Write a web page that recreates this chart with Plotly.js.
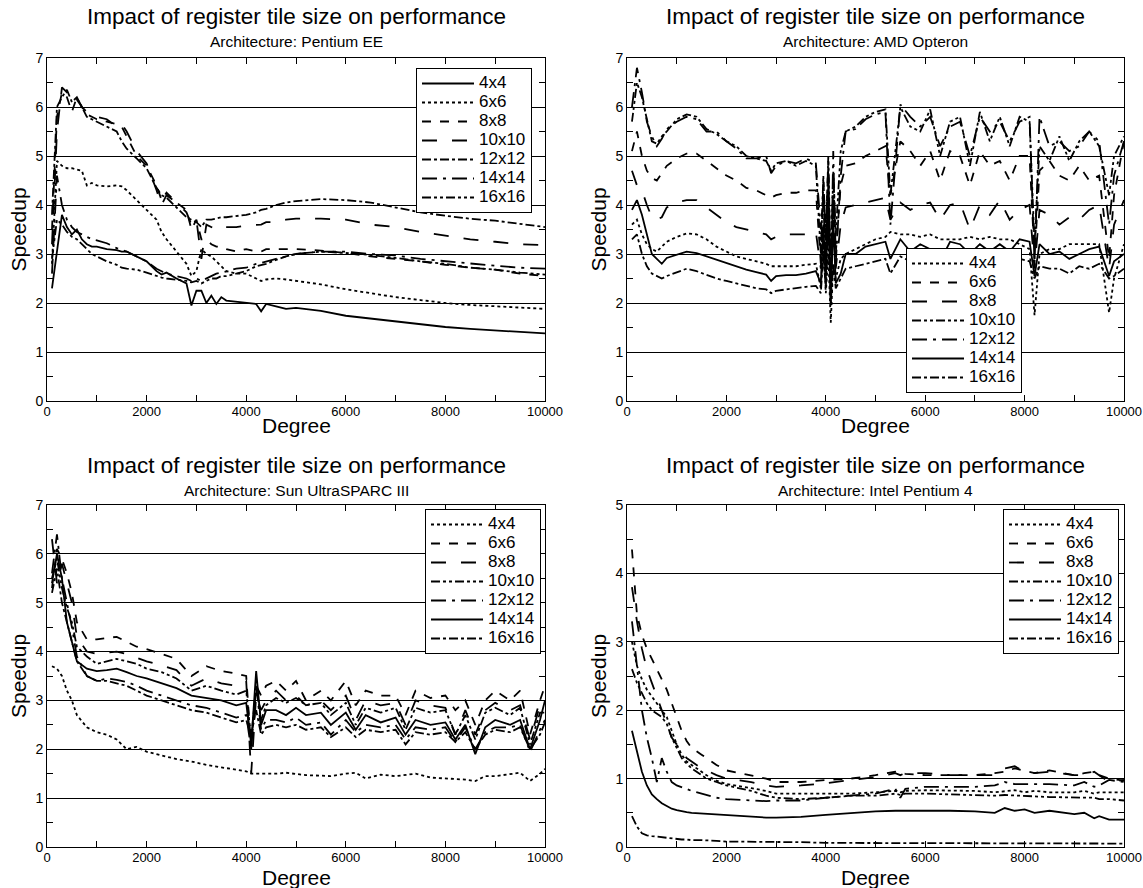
<!DOCTYPE html>
<html>
<head>
<meta charset="utf-8">
<script src="https://cdn.plot.ly/plotly-3.0.1.min.js"></script>
<style>html,body{margin:0;padding:0;background:#fff}</style>
</head>
<body>
<div id="chart" style="width:1143px;height:888px"></div>
<script>
// ---------- shared ----------
const seriesNames = ["4x4","6x6","8x8","10x10","12x12","14x14","16x16"];
const mainTitle = "Impact of register tile size on performance";
const archNames = ["Pentium EE","AMD Opteron","Sun UltraSPARC III","Intel Pentium 4"];
const xTickVals = [0,2000,4000,6000,8000,10000];
const xTickText = ["0","2000","4000","6000","8000","10000"];

// ---------- Pentium EE (top left) ----------
const pee_x = [100,200,300,400,500,600,700,800,900,1000,1200,1400,1500,1600,1800,2000,2200,2300,2400,2600,2800,2900,3000,3100,3200,3300,3400,3500,3600,3800,4000,4200,4300,4400,4600,4800,5000,5500,6000,6500,7000,7500,8000,8500,9000,9500,10000];
const pee_4x4 = [2.3,3.0,3.8,3.55,3.4,3.5,3.3,3.2,3.15,3.15,3.1,3.08,3.05,3.05,2.95,2.85,2.65,2.58,2.62,2.5,2.4,1.95,2.25,2.25,2.0,2.15,1.98,2.12,2.05,2.03,2.0,1.98,1.83,1.98,1.93,1.88,1.9,1.84,1.74,1.68,1.62,1.56,1.51,1.47,1.44,1.41,1.38];
const pee_6x6 = [2.8,4.9,4.8,4.75,4.75,4.72,4.7,4.4,4.45,4.4,4.38,4.4,4.38,4.3,4.1,3.9,3.7,3.45,3.3,3.05,2.8,2.55,2.65,3.1,3.0,2.95,2.85,2.75,2.65,2.6,2.6,2.5,2.45,2.48,2.5,2.48,2.45,2.38,2.28,2.2,2.12,2.06,2.0,1.96,1.93,1.9,1.88];
const pee_8x8 = [3.5,5.8,6.3,6.2,5.9,6.2,6.0,5.85,5.8,5.75,5.7,5.65,5.6,5.4,5.0,4.8,4.4,4.1,4.25,4.05,3.9,3.5,3.7,3.3,3.3,3.2,3.15,3.15,3.1,3.05,3.1,3.05,3.05,3.1,3.1,3.1,3.1,3.07,3.02,2.95,2.9,2.85,2.78,2.72,2.68,2.6,2.55];
const pee_10x10 = [3.2,5.5,6.4,6.3,6.1,6.15,6.0,5.9,5.85,5.8,5.75,5.6,5.65,5.5,5.1,4.85,4.3,4.0,4.2,4.05,3.85,3.6,3.7,2.9,3.6,3.55,3.5,3.55,3.55,3.55,3.58,3.6,3.6,3.65,3.65,3.7,3.72,3.72,3.7,3.6,3.55,3.45,3.38,3.3,3.25,3.2,3.18];
const pee_12x12 = [3.8,6.0,6.2,6.35,6.1,6.2,6.0,5.8,5.75,5.7,5.6,5.5,5.3,5.15,4.95,4.75,4.35,4.2,4.15,3.95,3.75,3.7,3.65,3.55,3.7,3.7,3.72,3.75,3.75,3.78,3.8,3.85,3.9,3.92,4.0,4.05,4.08,4.12,4.1,4.05,3.95,3.85,3.78,3.72,3.68,3.62,3.55];
const pee_14x14 = [2.6,4.6,4.0,3.7,3.55,3.45,3.4,3.35,3.3,3.28,3.22,3.12,3.08,3.05,2.95,2.85,2.7,2.65,2.6,2.55,2.5,2.45,2.5,2.45,2.5,2.55,2.6,2.62,2.65,2.7,2.72,2.8,2.82,2.85,2.9,2.95,3.0,3.05,3.05,3.0,2.97,2.9,2.85,2.8,2.76,2.72,2.7];
const pee_16x16 = [2.9,3.7,3.6,3.45,3.35,3.3,3.2,3.1,3.0,2.95,2.85,2.78,2.72,2.7,2.68,2.62,2.55,2.52,2.5,2.48,2.45,2.42,2.45,2.4,2.45,2.5,2.5,2.55,2.55,2.6,2.65,2.75,2.78,2.8,2.88,2.95,3.0,3.05,3.02,2.98,2.92,2.85,2.8,2.72,2.68,2.62,2.58];

// ---------- AMD Opteron (top right) ----------
const opt_x = [100,200,300,400,500,600,700,800,1000,1200,1400,1600,1800,2000,2200,2400,2600,2800,2900,3000,3200,3400,3600,3800,3900,3950,4000,4050,4100,4150,4200,4300,4400,4600,4800,5000,5200,5300,5500,5700,5900,6100,6300,6500,6700,6900,7100,7300,7500,7700,7900,8100,8200,8300,8500,8700,8900,9100,9300,9500,9700,9800,10000];
const opt_4x4 = [3.6,3.7,3.4,3.2,3.1,3.05,3.15,3.25,3.35,3.42,3.4,3.3,3.15,3.05,2.95,2.9,2.85,2.8,2.75,2.75,2.75,2.75,2.78,2.8,2.3,3.2,2.2,3.0,1.6,2.8,2.5,2.9,3.0,3.1,3.2,3.3,3.35,3.45,3.4,3.4,3.35,3.4,3.3,3.3,3.3,3.35,3.3,3.35,3.3,3.3,3.2,3.1,1.75,3.0,3.1,3.1,3.2,3.2,3.2,3.2,1.8,2.5,3.2];
const opt_6x6 = [5.1,5.5,5.0,4.7,4.55,4.5,4.65,4.8,4.95,5.05,5.05,4.9,4.75,4.6,4.5,4.35,4.3,4.2,4.15,4.2,4.25,4.25,4.3,4.3,2.8,4.5,3.4,4.9,2.1,4.6,3.0,4.4,4.8,4.85,5.0,5.1,5.2,4.2,5.3,5.1,4.8,5.1,4.5,5.1,5.0,4.4,5.1,4.8,4.9,4.5,5.0,5.0,2.9,4.7,4.9,4.6,4.5,4.8,4.5,4.6,2.9,4.2,5.3];
const opt_8x8 = [4.7,4.4,4.3,4.0,3.75,3.7,3.75,3.95,4.05,4.1,4.1,3.95,3.8,3.65,3.55,3.5,3.45,3.4,3.3,3.35,3.4,3.4,3.4,3.45,2.7,4.1,3.0,4.4,2.2,4.0,2.7,3.6,3.95,4.0,4.05,4.1,4.15,3.7,4.05,3.9,4.0,4.05,3.7,4.0,4.05,3.5,4.0,3.8,4.1,3.7,3.9,4.0,2.7,3.9,3.8,3.6,3.75,3.7,3.9,4.0,2.7,3.6,4.1];
const opt_10x10 = [5.7,6.5,6.2,5.75,5.3,5.25,5.4,5.5,5.75,5.85,5.8,5.55,5.45,5.3,5.2,5.0,4.95,4.9,4.7,4.85,4.9,4.8,4.9,4.8,3.0,4.6,3.2,5.0,2.6,4.7,3.4,5.1,5.5,5.6,5.8,5.9,5.95,4.2,6.0,5.6,5.5,5.95,5.0,5.7,5.8,4.8,5.9,5.3,5.8,5.2,5.8,5.7,3.2,5.2,4.9,5.4,4.9,5.3,5.5,5.2,4.2,5.0,5.4];
const opt_12x12 = [6.0,6.8,6.3,5.7,5.4,5.2,5.35,5.55,5.7,5.8,5.75,5.5,5.5,5.3,5.15,4.95,4.95,5.0,4.65,4.8,4.9,4.85,4.95,4.85,3.5,4.2,2.9,4.8,2.3,5.1,2.8,4.6,5.5,5.55,5.75,5.85,5.9,3.6,6.05,5.8,5.6,5.8,5.2,5.6,5.7,5.0,5.8,5.5,5.7,5.3,5.7,5.8,2.8,5.8,5.2,5.3,5.1,5.2,5.5,5.3,3.6,4.6,5.3];
const opt_14x14 = [3.9,4.1,3.8,3.4,3.0,2.9,2.8,2.92,2.98,3.05,3.02,2.95,2.88,2.82,2.75,2.68,2.63,2.58,2.45,2.55,2.57,2.57,2.6,2.65,2.4,3.6,2.5,4.0,1.95,3.7,2.4,2.6,3.0,3.0,3.15,3.2,3.25,2.9,3.3,3.05,3.2,3.1,2.85,3.25,3.2,3.0,3.2,3.05,3.2,3.05,3.3,3.25,2.55,3.2,3.0,3.05,2.9,3.0,3.1,3.15,2.55,2.85,3.0];
const opt_16x16 = [3.3,3.4,3.0,2.75,2.6,2.55,2.5,2.55,2.62,2.7,2.65,2.58,2.5,2.45,2.4,2.35,2.3,2.28,2.2,2.25,2.28,2.3,2.33,2.35,2.2,3.0,2.3,3.4,2.0,2.8,2.3,2.5,2.7,2.75,2.8,2.85,2.9,2.6,2.95,2.85,2.75,2.85,2.65,2.9,2.85,2.75,2.85,2.75,2.9,2.8,2.9,2.85,2.5,2.75,2.7,2.7,2.6,2.75,2.7,2.8,2.5,2.55,2.7];

// ---------- Sun UltraSPARC III (bottom left) ----------
const sun_x = [100,200,300,400,500,600,800,1000,1200,1400,1600,1800,2000,2300,2600,2900,3200,3500,3800,4000,4100,4200,4300,4400,4600,4800,5000,5200,5500,5700,6000,6200,6400,6700,7000,7200,7400,7700,8000,8200,8400,8600,8800,9000,9300,9500,9700,9900,10000];
const sun_4x4 = [3.7,3.65,3.5,3.2,3.0,2.7,2.45,2.35,2.3,2.2,2.0,2.05,1.95,1.88,1.8,1.75,1.68,1.63,1.58,1.55,1.5,1.5,1.5,1.5,1.5,1.52,1.5,1.47,1.46,1.45,1.5,1.52,1.4,1.48,1.45,1.47,1.5,1.42,1.4,1.4,1.38,1.35,1.45,1.45,1.5,1.52,1.35,1.5,1.6];
const sun_6x6 = [5.3,6.1,5.9,5.6,5.2,4.6,4.25,4.25,4.28,4.3,4.2,4.1,4.05,3.95,3.85,3.5,3.7,3.6,3.55,3.5,2.0,3.3,3.1,3.3,3.4,3.2,3.4,3.0,3.2,3.0,3.4,2.9,3.2,3.1,3.1,2.7,3.2,3.05,3.1,2.8,3.0,2.5,3.0,3.2,3.0,3.2,2.3,3.0,3.3];
const sun_8x8 = [6.3,5.4,5.8,5.4,5.0,4.3,4.0,3.95,3.98,4.0,3.95,3.88,3.8,3.72,3.62,3.3,3.45,3.35,3.3,3.4,1.5,3.1,2.8,3.0,3.2,3.0,3.1,2.9,3.0,2.8,3.1,2.6,3.0,2.9,2.95,2.5,3.0,2.9,2.85,2.3,2.8,2.3,2.8,2.95,2.8,2.9,2.2,2.9,2.8];
const sun_10x10 = [5.5,5.9,5.3,4.9,4.6,4.1,3.9,3.75,3.8,3.85,3.8,3.75,3.65,3.58,3.45,3.2,3.3,3.2,3.12,3.2,2.2,3.3,2.6,2.9,3.05,2.95,3.05,2.9,2.95,2.7,2.95,2.5,2.85,2.75,2.85,2.4,2.85,2.75,2.8,2.3,2.7,2.2,2.75,2.85,2.7,2.85,2.1,2.75,2.75];
const sun_12x12 = [5.6,6.4,5.5,5.0,4.5,3.9,3.5,3.4,3.45,3.42,3.38,3.3,3.2,3.1,3.0,2.9,2.85,2.75,2.65,2.7,2.0,3.3,2.4,2.6,2.6,2.55,2.65,2.5,2.55,2.3,2.6,2.35,2.5,2.45,2.5,2.2,2.45,2.4,2.45,2.15,2.45,2.0,2.35,2.45,2.45,2.5,1.95,2.4,2.6];
const sun_14x14 = [5.4,6.0,5.5,4.6,4.2,3.8,3.65,3.6,3.62,3.65,3.58,3.5,3.45,3.35,3.25,3.1,3.05,3.0,2.9,2.95,2.1,3.6,2.5,2.8,2.8,2.7,2.85,2.7,2.75,2.5,2.75,2.4,2.7,2.55,2.65,2.3,2.6,2.5,2.55,2.2,2.5,1.9,2.45,2.6,2.5,2.6,2.0,2.6,3.0];
const sun_16x16 = [5.2,5.7,5.0,4.6,4.2,3.8,3.5,3.4,3.4,3.35,3.3,3.2,3.1,3.0,2.9,2.8,2.75,2.65,2.55,2.6,2.3,2.8,2.3,2.45,2.5,2.45,2.5,2.4,2.45,2.25,2.45,2.25,2.4,2.35,2.4,2.1,2.35,2.3,2.35,2.15,2.35,2.0,2.3,2.4,2.35,2.45,2.0,2.3,2.55];

// ---------- Intel Pentium 4 (bottom right) ----------
const p4_x = [100,200,300,400,500,600,700,800,900,1000,1100,1200,1300,1500,1600,1800,2000,2500,2800,3000,3500,4000,4500,5000,5400,5500,5600,6000,6500,7000,7400,7600,7800,8000,8200,8500,9000,9200,9400,9500,9700,10000];
const p4_4x4 = [3.0,2.65,2.45,2.3,2.2,2.1,2.0,1.9,1.7,1.5,1.35,1.25,1.2,1.1,1.05,0.97,0.92,0.86,0.82,0.78,0.78,0.77,0.78,0.8,0.82,0.8,0.82,0.83,0.82,0.82,0.8,0.82,0.83,0.8,0.82,0.8,0.8,0.82,0.78,0.8,0.8,0.8];
const p4_6x6 = [4.35,3.4,3.1,2.9,2.75,2.6,2.45,2.3,2.1,1.9,1.7,1.55,1.45,1.35,1.3,1.2,1.12,1.05,1.0,0.95,0.95,0.98,1.0,1.05,1.1,1.08,1.07,1.05,1.05,1.05,1.08,1.1,1.15,1.12,1.08,1.12,1.05,1.08,1.1,1.05,1.0,0.97];
const p4_8x8 = [3.8,3.3,2.9,2.6,2.4,2.2,2.0,1.8,1.6,1.5,1.4,1.3,1.25,1.15,1.12,1.05,1.0,0.95,0.9,0.88,0.9,0.93,0.98,1.02,1.08,1.05,1.08,1.08,1.05,1.05,1.05,1.15,1.18,1.1,1.08,1.1,1.05,1.05,1.1,1.05,0.95,0.98];
const p4_10x10 = [2.6,2.4,2.25,2.1,2.0,1.95,1.9,1.8,1.6,1.45,1.3,1.22,1.15,1.05,1.0,0.95,0.9,0.82,0.75,0.72,0.7,0.72,0.75,0.75,0.78,0.76,0.78,0.78,0.77,0.76,0.75,0.76,0.75,0.75,0.74,0.73,0.73,0.72,0.72,0.7,0.7,0.68];
const p4_12x12 = [3.3,2.6,2.0,1.6,1.3,0.95,1.3,1.1,0.95,0.9,0.88,0.85,0.82,0.78,0.75,0.72,0.7,0.68,0.67,0.68,0.68,0.72,0.75,0.78,0.85,0.72,0.85,0.88,0.88,0.88,0.9,0.95,0.92,0.92,0.93,0.92,0.9,0.95,0.88,0.9,0.98,0.95];
const p4_14x14 = [1.7,1.4,1.1,0.9,0.77,0.7,0.64,0.6,0.56,0.54,0.52,0.51,0.5,0.49,0.48,0.47,0.46,0.44,0.43,0.43,0.44,0.47,0.5,0.52,0.53,0.53,0.54,0.54,0.53,0.52,0.5,0.57,0.53,0.55,0.5,0.53,0.48,0.5,0.42,0.45,0.4,0.4];
const p4_16x16 = [0.45,0.3,0.2,0.17,0.16,0.15,0.14,0.13,0.12,0.12,0.11,0.11,0.1,0.1,0.1,0.09,0.08,0.08,0.07,0.07,0.07,0.06,0.06,0.06,0.06,0.06,0.06,0.06,0.06,0.06,0.06,0.06,0.06,0.06,0.06,0.06,0.06,0.05,0.05,0.05,0.05,0.05];

// ---------- styles ----------
const DDOT = "9px,3px,3px,3px,3px,3px";
const dashTL = ["solid","dot","dash","longdash","dashdot","longdashdot",DDOT];
const dashStd = ["dot","dash","longdash",DDOT,"longdashdot","solid","dashdot"];
const FONT = "Liberation Sans, Arial, Helvetica, sans-serif";

const panels = [
  {xs: pee_x, ys: [pee_4x4,pee_6x6,pee_8x8,pee_10x10,pee_12x12,pee_14x14,pee_16x16], dash: dashTL, xa:"x",  ya:"y",  leg:"legend"},
  {xs: opt_x, ys: [opt_4x4,opt_6x6,opt_8x8,opt_10x10,opt_12x12,opt_14x14,opt_16x16], dash: dashStd, xa:"x2", ya:"y2", leg:"legend2"},
  {xs: sun_x, ys: [sun_4x4,sun_6x6,sun_8x8,sun_10x10,sun_12x12,sun_14x14,sun_16x16], dash: dashStd, xa:"x3", ya:"y3", leg:"legend3"},
  {xs: p4_x,  ys: [p4_4x4,p4_6x6,p4_8x8,p4_10x10,p4_12x12,p4_14x14,p4_16x16], dash: dashStd, xa:"x4", ya:"y4", leg:"legend4"}
];

const traces = [];
panels.forEach(p => {
  p.ys.forEach((y, i) => {
    traces.push({
      type: "scatter", mode: "lines", x: p.xs, y: y,
      name: '<span style="font-size:17px">' + seriesNames[i] + '</span>',
      xaxis: p.xa, yaxis: p.ya, legend: p.leg,
      line: {color: "black", width: 1.8, dash: p.dash[i]}
    });
  });
});

const W = 1143, H = 888;
const px = v => v / W, py = v => 1 - v / H;
const RIGHT = 1124;

function xaxis(d0, d1, anchor) {
  return {
    domain: [px(d0), px(d1)], anchor: anchor, range: [0, 10000],
    tickmode: "array", tickvals: xTickVals, ticktext: xTickText,
    ticks: "inside", ticklen: 6, tickcolor: "black",
    minor: {tickmode: "linear", dtick: 1000, tick0: 0, ticks: "inside", ticklen: 6, tickcolor: "black", showgrid: false},
    showline: true, linecolor: "black", linewidth: 1, mirror: "ticks",
    showgrid: false, zeroline: false, ticklabeloverflow: "allow", ticklabelstandoff: -2,
    tickfont: {family: FONT, size: 13, color: "black"}
  };
}
function yaxis(d0, d1, anchor, ymax) {
  return {
    domain: [py(d1), py(d0)], anchor: anchor, range: [0, ymax], dtick: 1,
    ticks: "inside", ticklen: 6, tickcolor: "black",
    minor: {dtick: 0.5, ticks: "inside", ticklen: 6, tickcolor: "black", showgrid: false},
    showline: true, linecolor: "black", linewidth: 1, mirror: "ticks",
    showgrid: true, gridcolor: "black", gridwidth: 1, zeroline: false,
    tickfont: {family: FONT, size: 14, color: "black"}
  };
}
function legend(x, y, xanchor, yanchor) {
  return {
    x: px(x), y: py(y), xanchor: xanchor, yanchor: yanchor,
    bgcolor: "white", bordercolor: "black", borderwidth: 1,
    font: {family: FONT, size: 12, color: "black"}, itemwidth: 52,
    tracegroupgap: 0
  };
}

const annotations = [];
const cols = [[47,545],[627,RIGHT]];
const rows = [[58,401],[505,847]];
const titleY = [[17,42],[465,490]];
const degY = [425, 877];
const spdX = [18, 598];
let k = 0;
for (let r = 0; r < 2; r++) {
  for (let c = 0; c < 2; c++) {
    const cx = (cols[c][0] + cols[c][1]) / 2;
    annotations.push({text: mainTitle, xref:"paper", yref:"paper", x: px(cx), y: py(titleY[r][0]), xanchor:"center", yanchor:"middle", showarrow:false, font:{family:FONT, size:22.5, color:"black"}});
    annotations.push({text: "Architecture: " + archNames[k], xref:"paper", yref:"paper", x: px(cx), y: py(titleY[r][1]), xanchor:"center", yanchor:"middle", showarrow:false, font:{family:FONT, size:15.5, color:"black"}});
    annotations.push({text: "Degree", xref:"paper", yref:"paper", x: px(cx), y: py(degY[r]), xanchor:"center", yanchor:"middle", showarrow:false, font:{family:FONT, size:21, color:"black"}});
    annotations.push({text: "Speedup", xref:"paper", yref:"paper", x: px(spdX[c]), y: py((rows[r][0]+rows[r][1])/2), xanchor:"center", yanchor:"middle", textangle:-90, showarrow:false, font:{family:FONT, size:21, color:"black"}});
    k++;
  }
}

const layout = {
  width: W, height: H, autosize: false,
  margin: {l:0, r:0, t:0, b:0},
  paper_bgcolor: "white", plot_bgcolor: "white",
  font: {family: FONT, color: "black"},
  showlegend: true,
  xaxis:  xaxis(47, 545, "y"),    yaxis:  yaxis(58, 401, "x", 7),
  xaxis2: xaxis(627, RIGHT, "y2"), yaxis2: yaxis(58, 401, "x2", 7),
  xaxis3: xaxis(47, 545, "y3"),   yaxis3: yaxis(505, 847, "x3", 7),
  xaxis4: xaxis(627, RIGHT, "y4"), yaxis4: yaxis(505, 847, "x4", 5),
  legend:  legend(532, 68, "right", "top"),
  legend2: legend(1022, 393, "right", "bottom"),
  legend3: legend(541, 509, "right", "top"),
  legend4: legend(1119, 509, "right", "top"),
  annotations: annotations
};

Plotly.newPlot("chart", traces, layout, {staticPlot: true, displayModeBar: false});
</script>
</body>
</html>
